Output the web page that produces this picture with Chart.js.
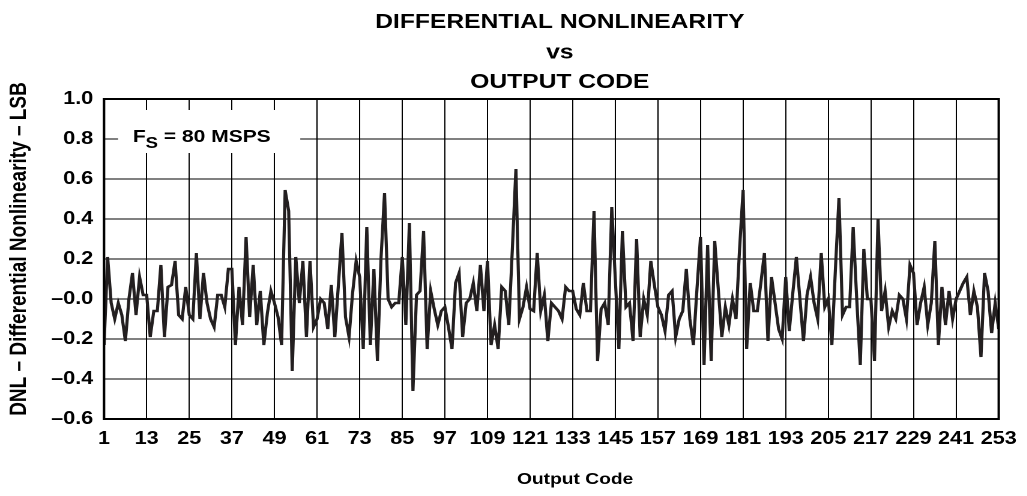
<!DOCTYPE html>
<html>
<head>
<meta charset="utf-8">
<script src="https://cdn.jsdelivr.net/npm/chart.js@4.4.0/dist/chart.umd.min.js"></script>
<style>
  html, body { margin: 0; padding: 0; background: #fff; overflow: hidden; }
  /* the reference figure is stretched horizontally, so the drawing is too */
  #wrap { width: 855.83px; height: 496px; transform: scaleX(1.2); transform-origin: 0 0; }
</style>
</head>
<body>
<div id="wrap"><canvas id="dnlChart"></canvas></div>
<script>
const codes = Array.from({ length: 253 }, (_, i) => i + 1);

const dnl = [
    -0.23, 0.21, -0.02, -0.10, -0.02, -0.08, -0.21, 0.00, 0.13, -0.08, 0.11, 0.02,
    0.02, -0.19, -0.06, -0.06, 0.17, -0.19, 0.06, 0.07, 0.19, -0.08, -0.10, 0.06,
    -0.08, -0.10, 0.23, -0.10, 0.13, -0.02, -0.10, -0.14, 0.02, 0.02, -0.04, 0.15,
    0.15, -0.23, 0.06, -0.13, 0.31, -0.09, 0.17, -0.13, 0.04, -0.23, -0.07, 0.04,
    -0.02, -0.09, -0.23, 0.545, 0.44, -0.36, 0.21, -0.02, 0.19, -0.19, 0.19, -0.14,
    -0.10, 0.00, -0.02, -0.15, 0.07, -0.19, 0.07, 0.33, -0.09, -0.19, 0.03, 0.19,
    0.11, -0.25, 0.36, -0.23, 0.15, -0.31, 0.20, 0.53, 0.00, -0.04, -0.02, -0.02,
    0.21, -0.13, 0.38, -0.46, 0.02, 0.04, 0.34, -0.25, 0.04, -0.05, -0.13, -0.06,
    -0.04, -0.14, -0.25, 0.08, 0.13, -0.19, -0.02, 0.00, 0.08, -0.06, 0.17, -0.06,
    0.19, -0.23, -0.13, -0.25, 0.06, 0.04, -0.13, 0.25, 0.65, -0.10, -0.04, 0.06,
    -0.05, -0.06, 0.23, -0.06, 0.02, -0.21, -0.02, -0.04, -0.06, -0.10, 0.06, 0.04,
    0.04, -0.05, -0.08, 0.08, -0.06, -0.06, 0.44, -0.31, -0.05, -0.02, -0.13, 0.46,
    0.10, -0.25, 0.34, -0.04, -0.02, -0.21, 0.30, -0.19, 0.00, -0.08, 0.19, 0.07,
    -0.04, -0.08, -0.16, 0.02, 0.04, -0.19, -0.10, -0.06, 0.15, -0.10, -0.23, 0.05,
    0.31, -0.33, 0.27, -0.31, 0.29, 0.05, -0.19, -0.04, -0.13, 0.00, -0.10, 0.25,
    0.545, -0.25, 0.08, -0.06, -0.06, 0.08, 0.23, -0.21, 0.11, -0.02, -0.15, -0.20,
    0.11, -0.16, 0.03, 0.21, 0.00, -0.21, 0.02, 0.11, -0.02, -0.10, 0.23, -0.04,
    0.00, -0.23, 0.15, 0.505, -0.08, -0.04, -0.04, 0.36, 0.00, -0.33, 0.25, 0.00,
    0.00, -0.31, 0.40, -0.06, 0.04, -0.14, -0.06, -0.10, 0.02, 0.00, -0.10, 0.17,
    0.13, -0.13, -0.02, 0.06, -0.13, -0.02, 0.29, -0.23, 0.06, -0.13, 0.04, -0.10,
    0.00, 0.04, 0.08, 0.11, -0.08, 0.04, -0.04, -0.29, 0.13, 0.04, -0.17, -0.02,
    -0.15
];

const xTicks = [1, 13, 25, 37, 49, 61, 73, 85, 97, 109, 121, 133, 145, 157, 169, 181, 193, 205, 217, 229, 241, 253];
const yTicks = [-0.6, -0.4, -0.2, 0, 0.2, 0.4, 0.6, 0.8, 1.0];
const yTickLabels = ['\u20130.6', '\u20130.4', '\u20130.2', '\u20130.0', '0.2', '0.4', '0.6', '0.8', '1.0'];

const FONT = '"Liberation Sans", Arial, Helvetica, sans-serif';

const decor = {
    id: 'decor',
    beforeDatasetsDraw(chart) {
        const { ctx, chartArea: a } = chart;
        ctx.save();
        // white label box over the grid
        ctx.fillStyle = '#fff';
        ctx.fillRect(a.left + 11.7, 110, 151.7, 43);
        ctx.fillStyle = '#000';
        ctx.textBaseline = 'alphabetic';
        let x = a.left + 23.9;
        ctx.font = 'bold 17.5px ' + FONT;
        ctx.fillText('F', x, 142);
        x += ctx.measureText('F').width;
        ctx.font = 'bold 15.5px ' + FONT;
        ctx.fillText('S', x, 148);
        x += ctx.measureText('S').width;
        ctx.font = 'bold 17.5px ' + FONT;
        ctx.fillText(' = 80 MSPS', x, 142);
        ctx.restore();
    },
    afterDraw(chart) {
        const { ctx, chartArea: a } = chart;
        ctx.save();
        // frame
        ctx.strokeStyle = '#000';
        ctx.lineWidth = 2;
        ctx.strokeRect(a.left, a.top, a.right - a.left, a.bottom - a.top);

        ctx.fillStyle = '#000';
        ctx.textAlign = 'center';
        ctx.textBaseline = 'alphabetic';
        ctx.font = 'bold 20.5px ' + FONT;
        const cx = 466.25;
        ctx.fillText('DIFFERENTIAL NONLINEARITY', cx, 28);
        ctx.fillText('vs', cx, 58.5);
        ctx.fillText('OUTPUT CODE', cx, 88);

        ctx.font = 'bold 16px ' + FONT;
        ctx.fillText('Output Code', 479, 484);

        ctx.translate(16.25, 249);
        ctx.rotate(-Math.PI / 2);
        ctx.textBaseline = 'middle';
        ctx.font = 'bold 19px ' + FONT;
        ctx.fillText('DNL \u2013 Differential Nonlinearity \u2013 LSB', 0, 0);
        ctx.restore();
    }
};

new Chart(document.getElementById('dnlChart'), {
    type: 'line',
    data: {
        datasets: [{
            data: codes.map((c, i) => ({ x: c, y: dnl[i] })),
            borderColor: '#231f20',
            borderWidth: 2.6,
            pointRadius: 0,
            tension: 0,
            fill: false
        }]
    },
    options: {
        responsive: true,
        maintainAspectRatio: false,
        devicePixelRatio: 2,
        animation: false,
        layout: { padding: { left: 0, right: 16.67, top: 99, bottom: 0 } },
        plugins: {
            legend: { display: false },
            title: { display: false },
            tooltip: { enabled: false }
        },
        scales: {
            x: {
                type: 'linear',
                min: 1,
                max: 253,
                afterBuildTicks: scale => { scale.ticks = xTicks.map(v => ({ value: v })); },
                afterFit: scale => { scale.height = 77; },
                grid: { color: '#000', lineWidth: 1, drawTicks: false },
                border: { color: '#000', width: 2 },
                ticks: {
                    color: '#000',
                    padding: 9,
                    maxRotation: 0,
                    autoSkip: false,
                    font: { family: FONT, size: 18, weight: 'bold' },
                    callback: v => String(v)
                }
            },
            y: {
                min: -0.6,
                max: 1.0,
                afterBuildTicks: scale => { scale.ticks = yTicks.map(v => ({ value: v })); },
                afterFit: scale => { scale.width = 86.67; },
                grid: { color: '#000', lineWidth: 1, drawTicks: false },
                border: { color: '#000', width: 2 },
                ticks: {
                    color: '#000',
                    padding: 9,
                    autoSkip: false,
                    font: { family: FONT, size: 18, weight: 'bold' },
                    callback: (v, i) => yTickLabels[i]
                }
            }
        }
    },
    plugins: [decor]
});
</script>
</body>
</html>
